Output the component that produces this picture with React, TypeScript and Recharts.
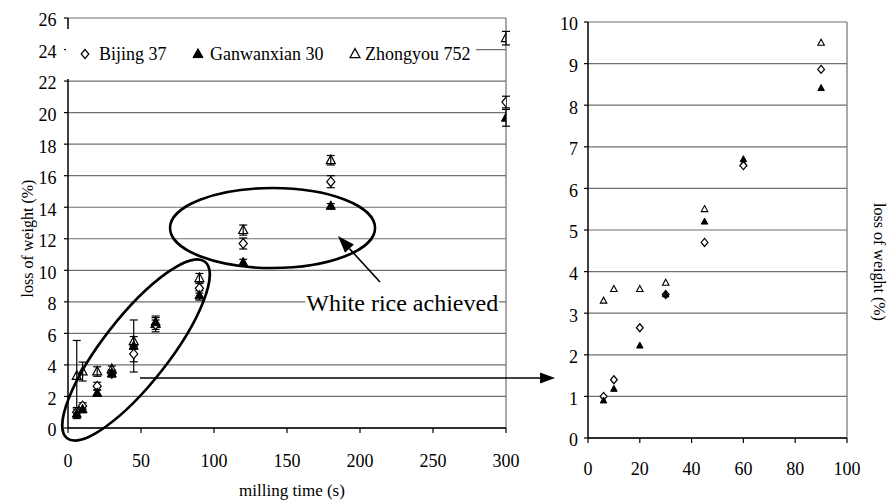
import React from 'react';
import {
  ScatterChart,
  Scatter,
  XAxis,
  YAxis,
  CartesianGrid,
  ErrorBar,
  ReferenceLine,
  ReferenceDot,
  Label,
} from 'recharts';

// ---------- data ----------
const times = [6, 10, 20, 30, 45, 60, 90, 120, 180, 300];
const bijing = [1.0, 1.4, 2.65, 3.45, 4.7, 6.55, 8.86, 11.7, 15.62, 20.67];
const bijingErr = [0.3, 0.2, 0.25, 0.2, 0.5, 0.3, 0.3, 0.35, 0.38, 0.37];
const ganwan = [0.9, 1.18, 2.22, 3.45, 5.2, 6.7, 8.41, 10.5, 14.08, 19.67];
const ganwanErr = [0.3, 0.2, 0.2, 0.2, 1.65, 0.3, 0.3, 0.2, 0.15, 0.53];
const zhong = [3.3, 3.58, 3.58, 3.73, 5.5, 6.6, 9.5, 12.55, 16.98, 24.72];
const zhongErr = [2.25, 0.6, 0.3, 0.2, 0.3, 0.5, 0.3, 0.32, 0.3, 0.43];
const detailMaxTime = 90;

const seriesNames = ['Bijing 37', 'Ganwanxian 30', 'Zhongyou 752'];
const xTicksLeft = [0, 50, 100, 150, 200, 250, 300];
const yTicksLeft = [0, 2, 4, 6, 8, 10, 12, 14, 16, 18, 20, 22, 24, 26];
const xTicksRight = [0, 20, 40, 60, 80, 100];
const yTicksRight = [0, 1, 2, 3, 4, 5, 6, 7, 8, 9, 10];

const xTitle = 'milling time (s)';
const yTitle = 'loss of weight (%)';
const noteText = 'White rice achieved';

// annotation anchors (data units of the left chart)
const ellipseLow = { x: 46.6, y: 4.95 };
const ellipseHigh = { x: 140.1, y: 12.68 };
const noteAnchor = { x: 163.2, y: 8 };
const arrowNote = [{ x: 213.7, y: 9.26 }, { x: 184.9, y: 12.17 }];
const arrowZoom = [{ x: 49.3, y: 3.17 }, { x: 333.6, y: 3.17 }];

const FONT = '"Liberation Serif", "Times New Roman", serif';

const rows = (vals: number[], errs: number[], maxT?: number) =>
  times
    .map((t, i) => ({ x: t, y: vals[i], err: errs[i] }))
    .filter((r) => maxT === undefined || r.x <= maxT);

// ---------- marker shapes ----------
const diamond = (r: number, sw: number) => (p: any) => (
  <path
    d={`M${p.cx},${p.cy - r}L${p.cx + r * 0.85},${p.cy}L${p.cx},${p.cy + r}L${p.cx - r * 0.85},${p.cy}Z`}
    fill="#fff"
    stroke="#000"
    strokeWidth={sw}
  />
);
const triangle = (w: number, h: number, filled: boolean, sw: number) => (p: any) => (
  <path
    d={`M${p.cx},${p.cy - h * 0.6}L${p.cx + w / 2},${p.cy + h * 0.4}L${p.cx - w / 2},${p.cy + h * 0.4}Z`}
    fill={filled ? '#000' : 'none'}
    stroke="#000"
    strokeWidth={sw}
    strokeLinejoin="miter"
  />
);

// ---------- ticks ----------
const yTick = (dy: number) => (p: any) => (
  <text x={p.x} y={p.y} dy={dy} textAnchor="end" fontSize={18} fontFamily={FONT} fill="#000">
    {p.payload.value}
  </text>
);
const xTick = (dy: number) => (p: any) => (
  <text x={p.x} y={p.y} dy={dy} textAnchor="middle" fontSize={18} fontFamily={FONT} fill="#000">
    {p.payload.value}
  </text>
);

// ---------- annotation shapes ----------
const arrowShape = (headLen: number, headW: number) => (p: any) => {
  const { x1, y1, x2, y2 } = p;
  const dx = x2 - x1;
  const dy = y2 - y1;
  const len = Math.sqrt(dx * dx + dy * dy) || 1;
  const ux = dx / len;
  const uy = dy / len;
  const bx = x2 - ux * headLen;
  const by = y2 - uy * headLen;
  const px = -uy * (headW / 2);
  const py = ux * (headW / 2);
  return (
    <g>
      <line x1={x1} y1={y1} x2={bx} y2={by} stroke="#000" strokeWidth={1.6} />
      <path d={`M${x2},${y2}L${bx + px},${by + py}L${bx - px},${by - py}Z`} fill="#000" />
    </g>
  );
};

const ellipseShape = (rx: number, ry: number, rot: number) => (p: any) => (
  <ellipse
    cx={p.cx}
    cy={p.cy}
    rx={rx}
    ry={ry}
    transform={`rotate(${rot} ${p.cx} ${p.cy})`}
    fill="none"
    stroke="#000"
    strokeWidth={2.6}
  />
);

const noteShape = (p: any) => (
  <g>
    <rect x={p.cx - 1} y={p.cy - 13} width={194} height={26} fill="#fff" />
    <text x={p.cx} y={p.cy + 9.5} fontSize={24} fontFamily={FONT} fill="#000">
      {noteText}
    </text>
  </g>
);

const axisLine = { stroke: '#000', strokeWidth: 1.5 };
const tickLine = { stroke: '#000', strokeWidth: 1.2 };
const GRID = '#707070';

function LeftChart() {
  return (
    <ScatterChart width={560} height={500} margin={{ top: 18, right: 54, bottom: 32, left: 0 }}>
      <CartesianGrid vertical={false} stroke={GRID} strokeWidth={1.2} />
      <XAxis
        type="number"
        dataKey="x"
        domain={[0, 300]}
        ticks={xTicksLeft}
        interval={0}
        allowDataOverflow
        height={40}
        tickSize={5}
        tickMargin={4}
        axisLine={axisLine}
        tickLine={tickLine}
        tick={xTick(30)}
      >
        <Label
          content={() => (
            <text x={292} y={496} textAnchor="middle" fontSize={17} fontFamily={FONT} fill="#000">
              {xTitle}
            </text>
          )}
        />
      </XAxis>
      <YAxis
        type="number"
        dataKey="y"
        domain={[0, 26]}
        ticks={yTicksLeft}
        interval={0}
        allowDataOverflow
        width={68}
        tickSize={4}
        tickMargin={7.5}
        axisLine={axisLine}
        tickLine={tickLine}
        tick={yTick(8.4)}
      >
        <Label
          content={() => (
            <text
              x={27.5}
              y={238.5}
              transform="rotate(-90 27.5 238.5)"
              textAnchor="middle"
              dominantBaseline="central"
              fontSize={16}
              fontFamily={FONT}
              fill="#000"
            >
              {yTitle}
            </text>
          )}
        />
      </YAxis>
      <ReferenceLine x={300} stroke={GRID} strokeWidth={1.2} />
      <Scatter data={rows(zhong, zhongErr)} shape={triangle(9, 8.5, false, 1.2)} isAnimationActive={false}>
        <ErrorBar dataKey="err" direction="y" width={4} stroke="#000" strokeWidth={1.2} />
      </Scatter>
      <Scatter data={rows(bijing, bijingErr)} shape={diamond(4.8, 1.2)} isAnimationActive={false}>
        <ErrorBar dataKey="err" direction="y" width={4} stroke="#000" strokeWidth={1.2} />
      </Scatter>
      <Scatter data={rows(ganwan, ganwanErr)} shape={triangle(9, 8.5, true, 1)} isAnimationActive={false}>
        <ErrorBar dataKey="err" direction="y" width={4} stroke="#000" strokeWidth={1.2} />
      </Scatter>
      <ReferenceDot x={ellipseLow.x} y={ellipseLow.y} ifOverflow="visible" shape={ellipseShape(112, 33, -52)} />
      <ReferenceDot x={ellipseHigh.x} y={ellipseHigh.y} ifOverflow="visible" shape={ellipseShape(102.5, 40, 0)} />
      <ReferenceDot x={noteAnchor.x} y={noteAnchor.y} ifOverflow="visible" shape={noteShape} />
      <ReferenceLine segment={arrowNote} ifOverflow="visible" shape={arrowShape(17, 12)} />
      <ReferenceLine segment={arrowZoom} ifOverflow="visible" shape={arrowShape(15, 11)} />
    </ScatterChart>
  );
}

function RightChart() {
  return (
    <ScatterChart width={328} height={500} margin={{ top: 22, right: 41, bottom: 22, left: 0 }}>
      <CartesianGrid vertical={false} stroke={GRID} strokeWidth={1.2} />
      <XAxis
        type="number"
        dataKey="x"
        domain={[0, 100]}
        ticks={xTicksRight}
        interval={0}
        allowDataOverflow
        height={40}
        tickSize={5}
        tickMargin={4}
        axisLine={axisLine}
        tickLine={tickLine}
        tick={xTick(28)}
      />
      <YAxis
        type="number"
        dataKey="y"
        domain={[0, 10]}
        ticks={yTicksRight}
        interval={0}
        allowDataOverflow
        width={28}
        tickSize={4}
        tickMargin={6}
        axisLine={axisLine}
        tickLine={tickLine}
        tick={yTick(8.3)}
      >
        <Label
          content={() => (
            <text
              x={319}
              y={262}
              transform="rotate(90 319 262)"
              textAnchor="middle"
              dominantBaseline="central"
              fontSize={16}
              fontFamily={FONT}
              fill="#000"
            >
              {yTitle}
            </text>
          )}
        />
      </YAxis>
      <ReferenceLine x={100} stroke={GRID} strokeWidth={1.2} />
      <Scatter data={rows(zhong, zhongErr, detailMaxTime)} shape={triangle(6.5, 6, false, 1.1)} isAnimationActive={false} />
      <Scatter data={rows(bijing, bijingErr, detailMaxTime)} shape={diamond(4, 1.2)} isAnimationActive={false} />
      <Scatter data={rows(ganwan, ganwanErr, detailMaxTime)} shape={triangle(6.5, 6, true, 1)} isAnimationActive={false} />
    </ScatterChart>
  );
}

function LegendBox() {
  const d = diamond(4.5, 1.2);
  const ft = triangle(10, 9, true, 1);
  const ot = triangle(10, 9, false, 1.2);
  return (
    <div style={{ position: 'absolute', left: 66, top: 29, width: 410, height: 50, background: '#fff' }}>
      <svg width={410} height={50} style={{ display: 'block' }}>
        {d({ cx: 19, cy: 25 })}
        <text x={33} y={30.5} fontSize={18} fontFamily={FONT} fill="#000">{seriesNames[0]}</text>
        {ft({ cx: 132, cy: 25 })}
        <text x={144} y={30.5} fontSize={18} fontFamily={FONT} fill="#000">{seriesNames[1]}</text>
        {ot({ cx: 289, cy: 25 })}
        <text x={299} y={30.5} fontSize={18} fontFamily={FONT} fill="#000">{seriesNames[2]}</text>
      </svg>
    </div>
  );
}

export default function App() {
  return (
    <div style={{ position: 'absolute', left: 0, top: 0, width: 888, height: 500, background: '#fff', overflow: 'hidden' }}>
      <div style={{ position: 'absolute', left: 0, top: 0 }}>
        <LeftChart />
      </div>
      <div style={{ position: 'absolute', left: 560, top: 0 }}>
        <RightChart />
      </div>
      <LegendBox />
    </div>
  );
}
